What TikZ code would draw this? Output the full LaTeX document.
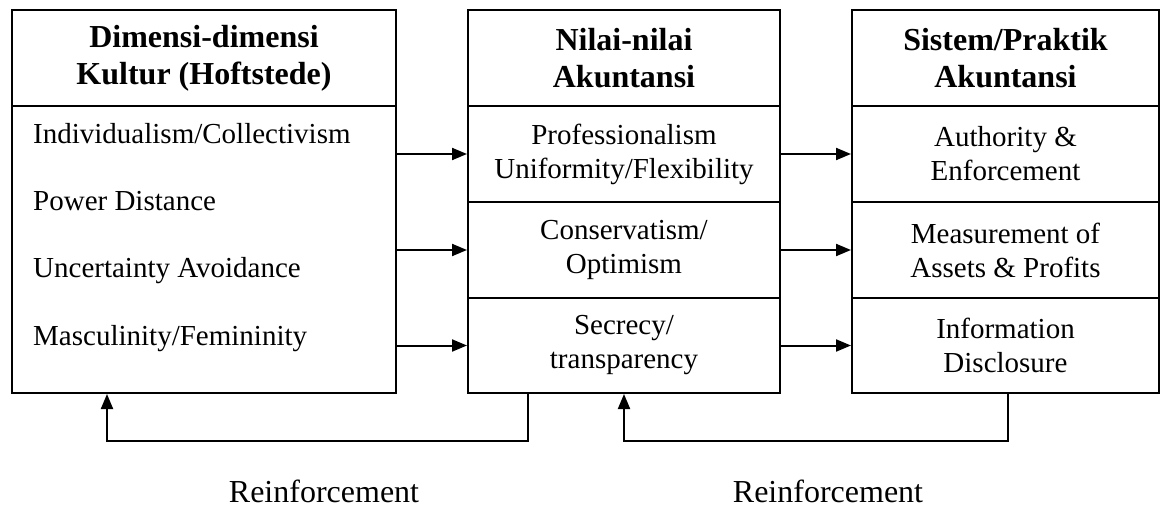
\documentclass[tikz,border=0pt]{standalone}
\usepackage{fontspec}
\setmainfont{Liberation Serif}
\usetikzlibrary{arrows.meta}
\begin{document}
\begin{tikzpicture}[x=1pt,y=-1pt,
  cell/.style={draw, line width=2pt, inner sep=0pt, align=center,
    font=\fontsize{29}{34}\selectfont},
  head/.style={cell, font=\fontsize{32}{37}\selectfont\bfseries},
  item/.style={inner sep=0pt, anchor=base west, font=\fontsize{29}{34}\selectfont},
  arr/.style={line width=2pt, -{Triangle[length=15pt,width=12pt]}},
  lab/.style={inner sep=0pt, anchor=base, font=\fontsize{32}{37}\selectfont}]
\useasboundingbox (0,0) rectangle (1160,511);
% box 1
\node[head, minimum width=384pt, minimum height=96pt] (h1) at (204,58) {Dimensi-dimensi\\Kultur (Hoftstede)};
\node[cell, minimum width=384pt, minimum height=287pt] (b1) at (204,249.5) {};
\node[item] (i1) at (33,143) {Individualism/Collectivism};
\node[item] (i2) at (33,210) {Power Distance};
\node[item] (i3) at (33,277) {Uncertainty Avoidance};
\node[item] (i4) at (33,345) {Masculinity/Femininity};
% box 2
\node[head, minimum width=312pt, minimum height=96pt] (h2) at (624,58) {Nilai-nilai\\Akuntansi};
\node[cell, minimum width=312pt, minimum height=96pt] (c21) at (624,154) {Professionalism\\Uniformity/Flexibility};
\node[cell, minimum width=312pt, minimum height=96pt] (c22) at (624,250) {Conservatism/\\Optimism};
\node[cell, minimum width=312pt, minimum height=95pt] (c23) at (624,345.5) {Secrecy/\\transparency};
% box 3
\node[head, minimum width=307pt, minimum height=96pt] (h3) at (1005.5,58) {Sistem/Praktik\\Akuntansi};
\node[cell, minimum width=307pt, minimum height=96pt] (c31) at (1005.5,154) {Authority \&\\Enforcement};
\node[cell, minimum width=307pt, minimum height=96pt] (c32) at (1005.5,250) {Measurement of\\Assets \& Profits};
\node[cell, minimum width=307pt, minimum height=95pt] (c33) at (1005.5,345.5) {Information\\Disclosure};
% arrows box1 -> box2
\draw[arr] (b1.east |- c21.west) -- (c21.west);
\draw[arr] (b1.east |- c22.west) -- (c22.west);
\draw[arr] (b1.east |- c23.west) -- (c23.west);
% arrows box2 -> box3
\draw[arr] (c21.east) -- (c31.west);
\draw[arr] (c22.east) -- (c32.west);
\draw[arr] (c23.east) -- (c33.west);
% feedback loops
\coordinate (f1) at (528,441);
\coordinate (f2) at (107,441);
\draw[arr] (c23.south -| f1) -- (f1) -- (f2) -- (f2 |- b1.south);
\coordinate (g1) at (1008,441);
\coordinate (g2) at (624,441);
\draw[arr] (c33.south -| g1) -- (g1) -- (g2) -- (c23.south);
% labels
\node[lab] (r1) at (324,502) {Reinforcement};
\node[lab] (r2) at (828,502) {Reinforcement};
\end{tikzpicture}
\end{document}
